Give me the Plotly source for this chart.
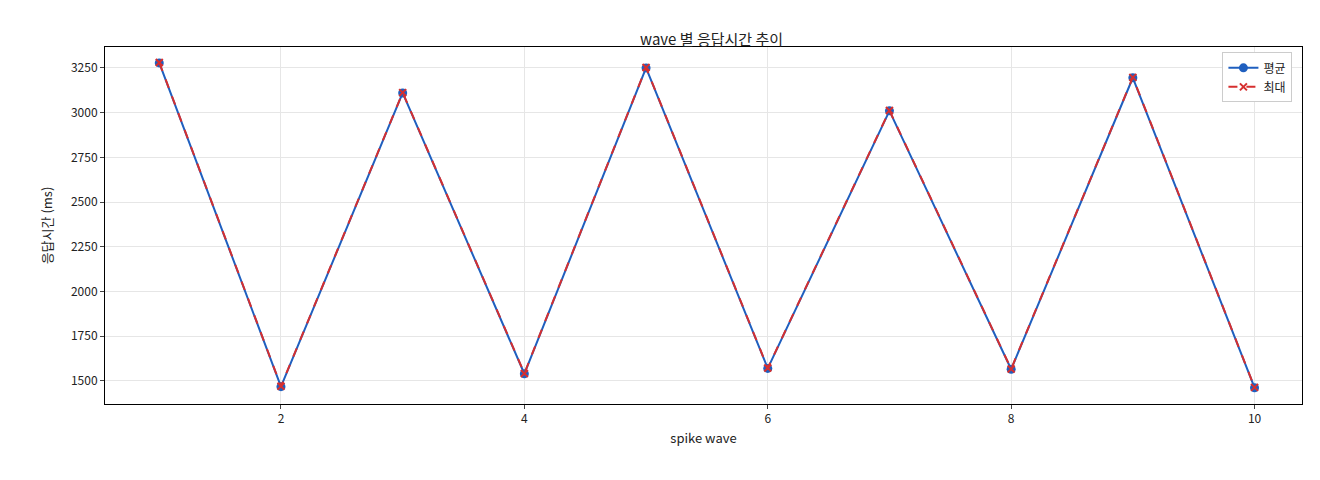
import plotly.graph_objects as go

waves = [1, 2, 3, 4, 5, 6, 7, 8, 9, 10]
avg_ms = [3278, 1468, 3110, 1540, 3250, 1570, 3010, 1565, 3195, 1462]
max_ms = [3280, 1470, 3112, 1542, 3252, 1572, 3012, 1567, 3197, 1464]

fig = go.Figure()
fig.add_trace(go.Scatter(x=waves, y=avg_ms, name="평균", mode="lines+markers",
                         line=dict(color="#1f5fbf", width=2), marker=dict(size=9, color="#1f5fbf")))
fig.add_trace(go.Scatter(x=waves, y=max_ms, name="최대", mode="lines+markers",
                         line=dict(color="#d62f2f", width=2, dash="dash"),
                         marker=dict(symbol="x-thin", size=7, color="#d62f2f", line=dict(width=2, color="#d62f2f"))))
font = "Noto Sans CJK KR"
fig.update_layout(
    width=1320, height=480, plot_bgcolor="white", paper_bgcolor="white",
    font=dict(family=font, size=12, color="#222"),
    title=dict(text="wave 별 응답시간 추이", x=0.533, xanchor="center", y=0.945, font=dict(size=15)),
    margin=dict(l=97, r=26, t=39, b=84),
    legend=dict(x=0.992, y=0.985, xanchor="right", yanchor="top", bordercolor="#ccc", borderwidth=1, bgcolor="white"),
    showlegend=True,
)
axis = dict(showline=True, linecolor="black", mirror=True, gridcolor="#e6e6e6", ticks="outside", ticklen=4,
            zeroline=False, title_font=dict(size=13))
fig.update_xaxes(axis, range=[0.554, 10.39], tickvals=[2, 4, 6, 8, 10], title_text="spike wave", title_standoff=8)
fig.update_yaxes(axis, range=[1371, 3367], tickvals=[1500, 1750, 2000, 2250, 2500, 2750, 3000, 3250], title_text="응답시간 (ms)")
fig.write_html("out.html")
